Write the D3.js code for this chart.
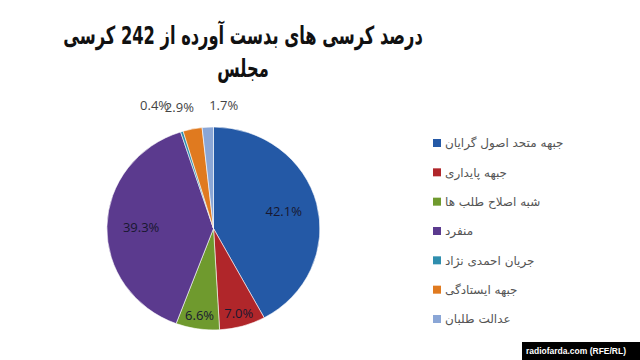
<!DOCTYPE html>
<html><head><meta charset="utf-8">
<script src="https://cdn.jsdelivr.net/npm/d3@7"></script>
<style>html,body{margin:0;padding:0;background:#fff;}svg{display:block;}</style>
</head><body>
<svg id="c" width="640" height="360"></svg>
<script>
const titleLines = ["درصد کرسی های بدست آورده از 242 کرسی", "مجلس"];
const categories = ["جبهه متحد اصول گرایان","جبهه پایداری","شبه اصلاح طلب ها","منفرد","جریان احمدی نژاد","جبهه ایستادگی","عدالت طلبان"];
const values = [42.1, 7.0, 6.6, 39.3, 0.4, 2.9, 1.7];
const colors = ["#2459a6","#b0262a","#6f9a2e","#5b3a8e","#2f8eae","#e07a1f","#8aa6d6"];
const credit = "radiofarda.com (RFE/RL)";

const svg = d3.select("#c");
svg.append("rect").attr("width",640).attr("height",360).attr("fill","#fff");

// title (horizontally condensed to match reference)
const titleX = 243;
let sx = 1;
titleLines.forEach((t,i)=>{
  const g = svg.append("g");
  const el = g.append("text").attr("x",0).attr("y",0)
    .attr("text-anchor","middle").attr("font-family","DejaVu Sans")
    .attr("font-weight","bold").attr("font-size",25).attr("fill","#111").text(t);
  if (i===0){
    const w = el.node().getComputedTextLength();
    sx = 360 / w;
  }
  g.attr("transform",`translate(${titleX},${i===0 ? 44 : 77}) scale(${sx},1)`);
});

// pie
const cx = 213.5, cy = 228.5, rx = 106.5, ry = 101.5;
const pie = d3.pie().sort(null).value(d=>d)(values);
const arc = d3.arc().innerRadius(0).outerRadius(1);
const pg = svg.append("g").attr("transform",`translate(${cx},${cy})`);
pg.append("g").attr("transform",`scale(${rx},${ry})`).selectAll("path").data(pie).join("path")
  .attr("d",arc).attr("fill",(d,i)=>colors[i])
  .attr("stroke","#fff").attr("stroke-width",0.6/rx);

const fmt = v => d3.format(".1f")(v)+"%";
const outsideNudge = {4:-21, 5:-9, 6:17};
pie.forEach((d,i)=>{
  const mid = (d.startAngle+d.endAngle)/2;
  let x, y, fill = "#181830";
  if (d.value >= 30){
    x = Math.sin(mid)*rx*0.68; y = -Math.cos(mid)*ry*0.68;
  } else if (d.value >= 5){
    x = Math.sin(mid)*rx*0.87; y = -Math.cos(mid)*ry*0.87;
  } else {
    x = Math.sin(mid)*rx*1.2 + outsideNudge[i];
    y = -ry - 22 + (i===5 ? 2 : 0);
    fill = "#444";
  }
  pg.append("text").attr("x",x).attr("y",y).attr("dy","0.35em")
    .attr("text-anchor","middle").attr("font-family","Open Sans")
    .attr("font-size",13).attr("fill",fill).text(fmt(d.value));
});

// legend
const lg = svg.append("g");
const ly = d3.scalePoint().domain(d3.range(categories.length)).range([143,319]);
categories.forEach((c,i)=>{
  lg.append("rect").attr("x",433).attr("y",ly(i)-4).attr("width",8).attr("height",8).attr("fill",colors[i]);
  lg.append("text").attr("x",445).attr("y",ly(i)).attr("dy","0.35em")
    .attr("font-family","DejaVu Sans").attr("font-size",12).attr("fill","#555").text(c);
});

// credit
svg.append("rect").attr("x",522).attr("y",342).attr("width",118).attr("height",18).attr("fill","#000");
svg.append("text").attr("x",526).attr("y",351).attr("dy","0.35em")
  .attr("textLength",100).attr("lengthAdjust","spacingAndGlyphs")
  .attr("font-family","Liberation Sans").attr("font-weight","bold").attr("font-size",9.5).attr("fill","#fff").text(credit);
</script>
</body></html>
